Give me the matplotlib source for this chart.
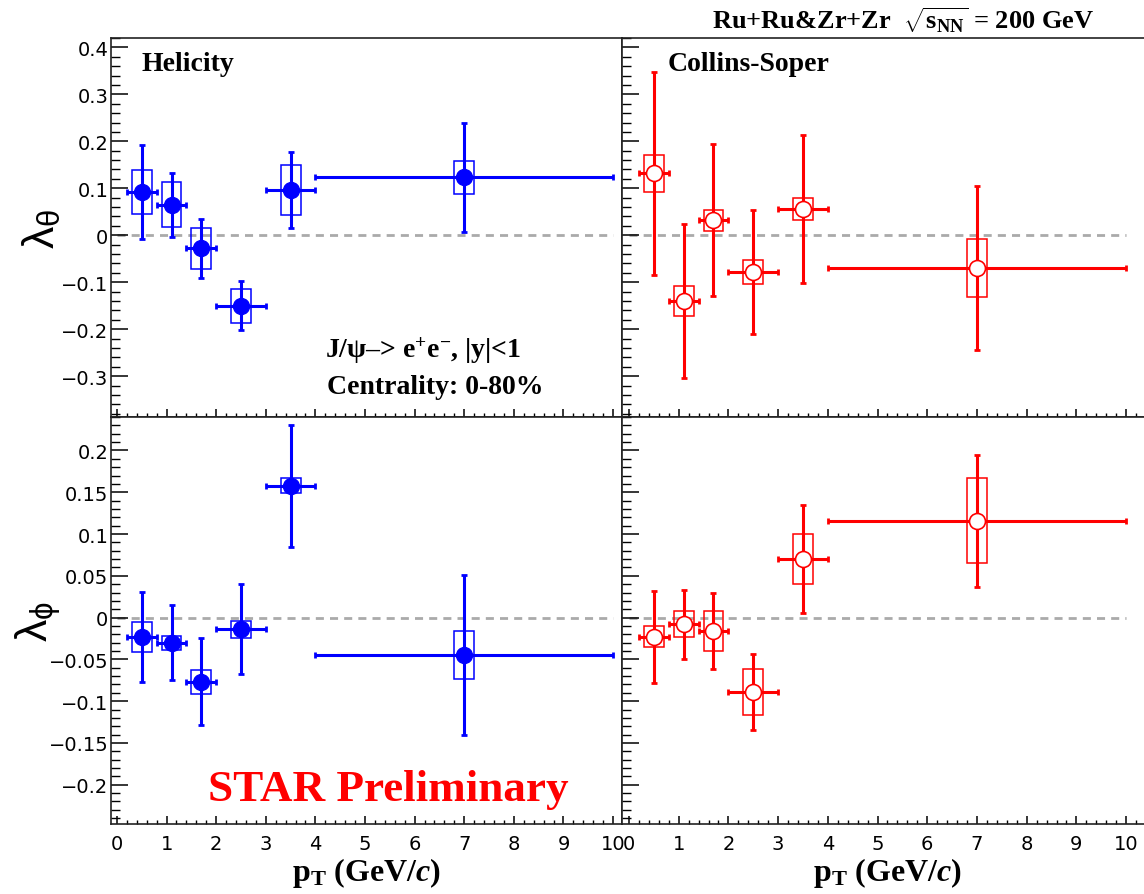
import numpy as np
import matplotlib
matplotlib.use("Agg")
import matplotlib.pyplot as plt
from matplotlib.patches import Rectangle
from matplotlib.ticker import MultipleLocator, FuncFormatter

# J/psi polarization vs pT, Ru+Ru & Zr+Zr 200 GeV
pt = [0.5, 1.1, 1.7, 2.5, 3.5, 7.0]
pt_err = [0.3, 0.3, 0.3, 0.5, 0.5, 3.0]

hx_theta = [0.092, 0.065, -0.028, -0.150, 0.097, 0.123]
hx_theta_stat = [0.101, 0.068, 0.062, 0.052, 0.081, 0.116]
hx_theta_sys = [0.046, 0.048, 0.043, 0.036, 0.053, 0.035]

hx_phi = [-0.023, -0.030, -0.077, -0.014, 0.158, -0.045]
hx_phi_stat = [0.054, 0.045, 0.052, 0.054, 0.073, 0.096]
hx_phi_sys = [0.0176, 0.0084, 0.014, 0.010, 0.009, 0.0286]

cs_theta = [0.132, -0.140, 0.032, -0.078, 0.056, -0.070]
cs_theta_stat = [0.216, 0.163, 0.162, 0.132, 0.157, 0.174]
cs_theta_sys = [0.039, 0.032, 0.022, 0.026, 0.024, 0.061]

cs_phi = [-0.023, -0.008, -0.016, -0.089, 0.070, 0.116]
cs_phi_stat = [0.055, 0.041, 0.046, 0.046, 0.065, 0.079]
cs_phi_sys = [0.0126, 0.0156, 0.0236, 0.028, 0.030, 0.051]

plt.rcParams['mathtext.fontset'] = 'custom'
plt.rcParams['mathtext.rm'] = 'Liberation Serif:bold'
plt.rcParams['mathtext.bf'] = 'Liberation Serif:bold'
plt.rcParams['mathtext.it'] = 'Liberation Serif:italic:bold'
plt.rcParams['mathtext.sf'] = 'Liberation Sans'

SERIF = 'Liberation Serif'
TICKFONT = 'DejaVu Sans'

fig = plt.figure(figsize=(11.44, 8.95), dpi=100)
W, H = 1144.0, 895.0

def pix_axes(x0, y0, x1, y1):
    return fig.add_axes([x0 / W, 1 - y1 / H, (x1 - x0) / W, (y1 - y0) / H])

ax_tl = pix_axes(111, 39, 622, 418)
ax_bl = pix_axes(111, 418, 622, 825)
ax_tr = pix_axes(622, 39, 1151, 418)
ax_br = pix_axes(622, 418, 1151, 825)

fmt = FuncFormatter(lambda v, p: ('%g' % round(v, 4)).replace('-', '\u2212'))


def style(ax, ylim, major, minor, xlim, ylabels=True, xlabels=True):
    ax.set_xlim(*xlim)
    ax.set_ylim(*ylim)
    ax.xaxis.set_major_locator(MultipleLocator(1))
    ax.xaxis.set_minor_locator(MultipleLocator(0.2))
    ax.yaxis.set_major_locator(MultipleLocator(major))
    ax.yaxis.set_minor_locator(MultipleLocator(minor))
    ax.yaxis.set_major_formatter(fmt)
    ax.tick_params(axis='y', which='major', direction='in', length=12, width=1.1, pad=2,
                   labelsize=14, labelleft=ylabels, right=False)
    ax.tick_params(axis='y', which='minor', direction='in', length=6.5, width=1.0, right=False)
    ax.tick_params(axis='x', which='major', direction='in', length=5.5, width=1.1, pad=7,
                   labelsize=14, labelbottom=xlabels, top=False)
    ax.tick_params(axis='x', which='minor', direction='in', length=3, width=1.0, top=False)
    for lab in ax.get_xticklabels() + ax.get_yticklabels():
        lab.set_fontfamily(TICKFONT)
    for s in ax.spines.values():
        s.set_linewidth(1.2)
        s.set_color('#222222')
    ax.plot([0, 10], [0, 0], color='#aaaaaa', lw=2, dashes=(2.9, 2.2), zorder=1)


def draw(ax, y, stat, sys, color, filled):
    for xi, yi, si in zip(pt, y, sys):
        ax.add_patch(Rectangle((xi - 0.2, yi - si), 0.4, 2 * si, fill=False,
                               ec=color, lw=1.1, zorder=2))
    ax.errorbar(pt, y, xerr=pt_err, yerr=stat, fmt='none', ecolor=color,
                elinewidth=2.2, capsize=2, capthick=2, zorder=3)
    if filled:
        ax.plot(pt, y, 'o', ms=11.5, mfc=color, mec=color, zorder=4)
    else:
        ax.plot(pt, y, 'o', ms=11.5, mfc='white', mec=color, mew=1.2, zorder=4)


style(ax_tl, (-0.387, 0.42), 0.1, 0.02, (-0.12, 10.18), xlabels=False)
style(ax_bl, (-0.247, 0.240), 0.05, 0.01, (-0.12, 10.18))
style(ax_tr, (-0.387, 0.42), 0.1, 0.02, (-0.14, 10.5), ylabels=False, xlabels=False)
style(ax_br, (-0.247, 0.240), 0.05, 0.01, (-0.14, 10.5), ylabels=False)

draw(ax_tl, hx_theta, hx_theta_stat, hx_theta_sys, 'blue', True)
draw(ax_bl, hx_phi, hx_phi_stat, hx_phi_sys, 'blue', True)
draw(ax_tr, cs_theta, cs_theta_stat, cs_theta_sys, 'red', False)
draw(ax_br, cs_phi, cs_phi_stat, cs_phi_sys, 'red', False)

# axis titles
for ax, lab in [(ax_tl, r'$\mathsf{\lambda}_{\mathsf{\theta}}$'),
                (ax_bl, r'$\mathsf{\lambda}_{\mathsf{\phi}}$')]:
    ax.set_ylabel(lab, fontsize=32)
    ax.yaxis.set_label_coords(-0.094, 0.5)

for ax in (ax_bl, ax_br):
    ax.set_xlabel(r'$\mathbf{p}_{\mathbf{T}}$ (GeV/$\mathit{c}$)', fontsize=23,
                  fontfamily=SERIF, fontweight='bold')
ax_bl.xaxis.set_label_coords(0.5, -0.075)
ax_br.xaxis.set_label_coords((887 - 622) / 529.0, -0.075)

# annotations
ax_tl.text(0.5, 0.365, 'Helicity', fontsize=20, fontfamily=SERIF, fontweight='bold',
           va='center')
ax_tr.text(0.77, 0.365, 'Collins-Soper', fontsize=20, fontfamily=SERIF, fontweight='bold',
           va='center')
ax_tl.text(4.2, -0.244, 'J/$\\mathbf{\\psi}$\u2013> e$^{\\mathbf{+}}$e$^{\\mathbf{-}}$, |y|<1',
           fontsize=20, fontfamily=SERIF, fontweight='bold', va='center')
ax_tl.text(4.23, -0.321, 'Centrality: 0-80%', fontsize=20, fontfamily=SERIF,
           fontweight='bold', va='center')
ax_bl.text(1.83, -0.205, 'STAR Preliminary', fontsize=32.5, fontfamily=SERIF,
           fontweight='bold', color='red', va='center')
fig.text(712 / W, 1 - 20 / H, r'Ru+Ru&Zr+Zr  $\sqrt{\mathbf{s}_{\mathbf{NN}}}$ = 200 GeV',
         fontsize=19, fontfamily=SERIF, fontweight='bold', va='center')

fig.savefig('out.png', dpi=100)
